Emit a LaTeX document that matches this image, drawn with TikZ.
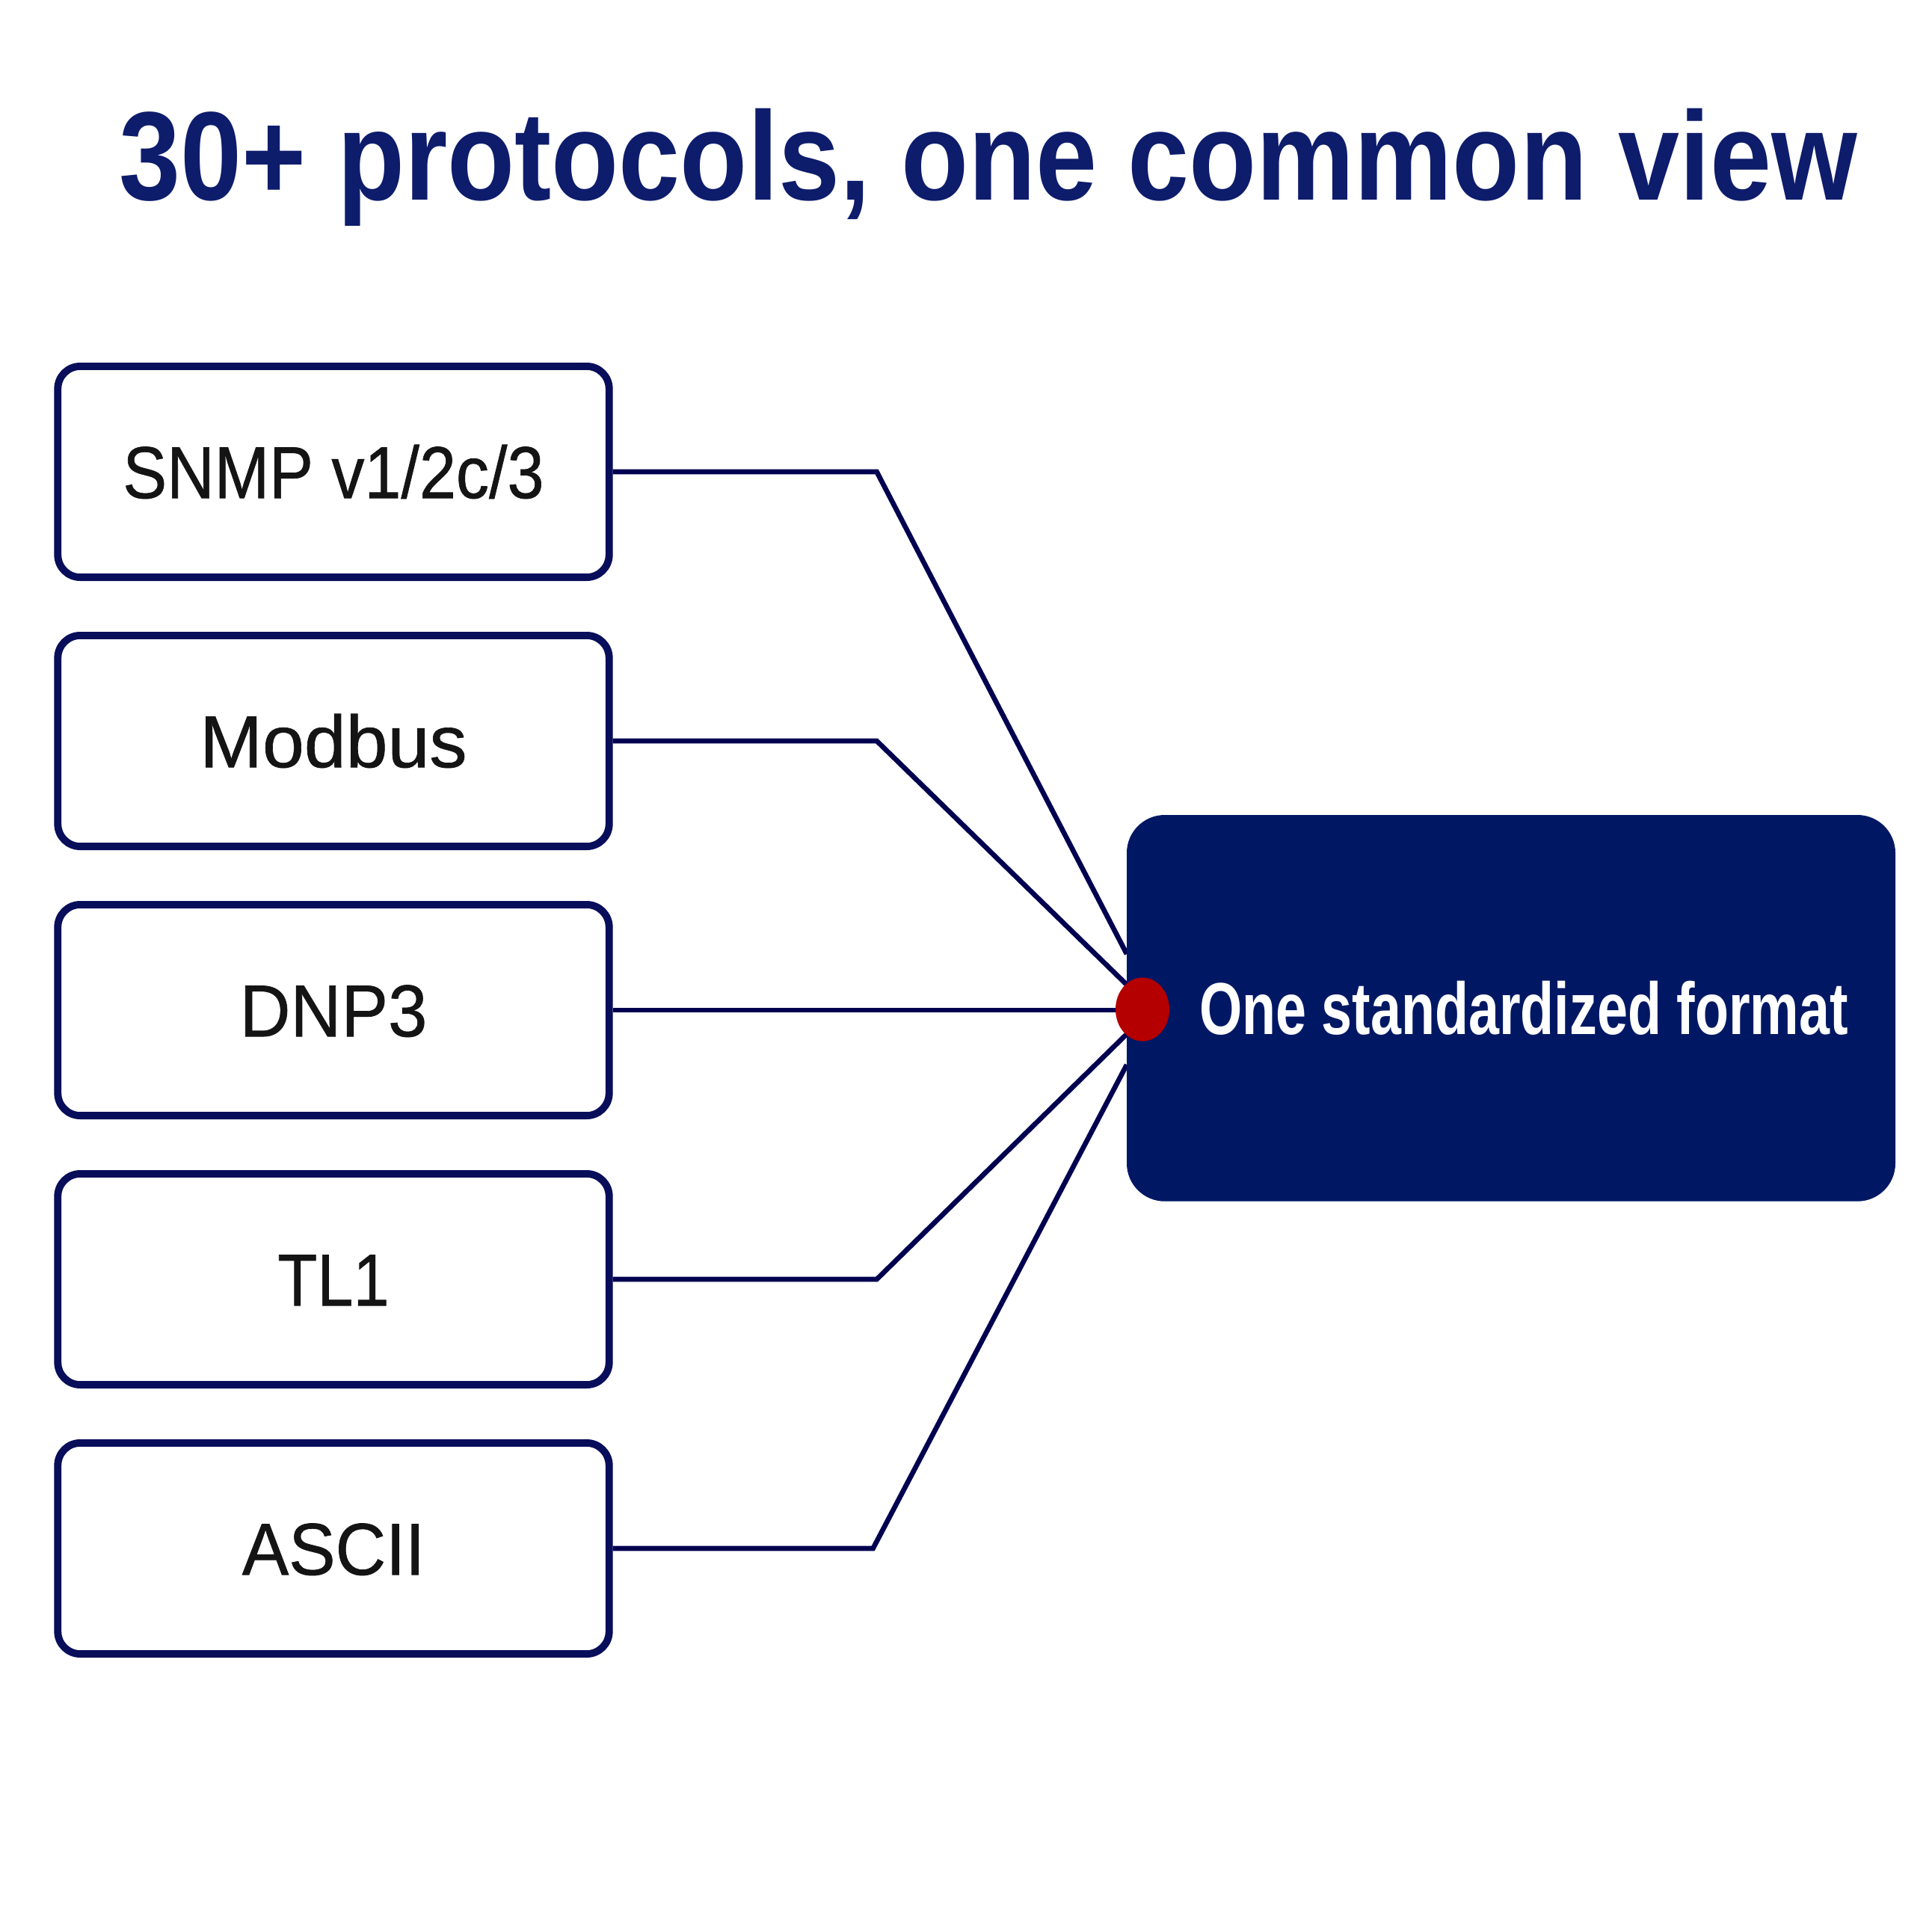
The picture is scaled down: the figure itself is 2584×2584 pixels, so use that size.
\documentclass[tikz,border=0pt]{standalone}
\usepackage{fontspec}
\setmainfont{Liberation Sans}
\newfontfamily\labelfont[FakeBold=0.7]{Liberation Sans}
\usetikzlibrary{shapes.geometric,calc}
\definecolor{hubnavy}{RGB}{0,24,100}
\definecolor{titlenavy}{RGB}{14,28,108}
\definecolor{edgenavy}{RGB}{8,14,90}
\definecolor{linenavy}{RGB}{0,0,80}
\definecolor{dotred}{RGB}{180,0,0}
\newcommand{\lbl}[2]{\scalebox{#1}[1]{#2}}
\begin{document}
\begin{tikzpicture}[x=0.01cm,y=-0.01cm,
  protobox/.style={draw=edgenavy, line width=2.8pt, rounded corners=0.3cm, fill=white,
    minimum width=7.37cm, minimum height=2.82cm, inner sep=0pt,
    font=\labelfont\fontsize{28}{30}\selectfont, text=black!92, text height=20pt, text depth=0pt},
  link/.style={draw=linenavy, line width=1.9pt, line join=miter}]
\useasboundingbox (0,0) rectangle (2584,2584);
\fill[white] (0,0) rectangle (2584,2584);
% title
\node[anchor=base, text=titlenavy, inner sep=0pt] (title) at (1322,267)
  {\scalebox{0.874}[1]{\fontsize{48}{50}\selectfont\bfseries 30+ protocols, one common view}};
% protocol boxes
\node[protobox] (p1) at (446,631) {\lbl{0.895}{SNMP v1/2c/3}};
\node[protobox] (p2) at (446,991) {\lbl{1.02}{Modbus}};
\node[protobox] (p3) at (446,1351) {\lbl{0.955}{DNP3}};
\node[protobox] (p4) at (446,1711) {\lbl{0.88}{TL1}};
\node[protobox] (p5) at (446,2071) {\lbl{0.95}{ASCII}};
% connectors
\draw[link] (p1.east) -- ++(353,0) -- ($(1507,1350)+(0,-74)$);
\draw[link] (p2.east) -- ++(353,0) -- ($(1507,1350)+(0,-33)$);
\draw[link] (p3.east) -- (1507,1351);
\draw[link] (p4.east) -- ++(353,0) -- ($(1507,1350)+(0,33)$);
\draw[link] (p5.east) -- ++(348,0) -- ($(1507,1350)+(0,74)$);
% hub
\node[fill=hubnavy, draw=hubnavy, rounded corners=0.5cm, anchor=north west,
  minimum width=10.26cm, minimum height=5.15cm, inner sep=0pt,
  text=white, font=\fontsize{28}{30}\selectfont\bfseries, text height=20pt, text depth=0pt]
  (hub) at (1507,1090) {\hspace{0.34cm}\scalebox{0.748}[1]{One standardized format}};
% red dot
\node[ellipse, fill=dotred, minimum width=0.72cm, minimum height=0.85cm, inner sep=0pt] (dot) at (1528,1350) {};
\end{tikzpicture}
\end{document}
